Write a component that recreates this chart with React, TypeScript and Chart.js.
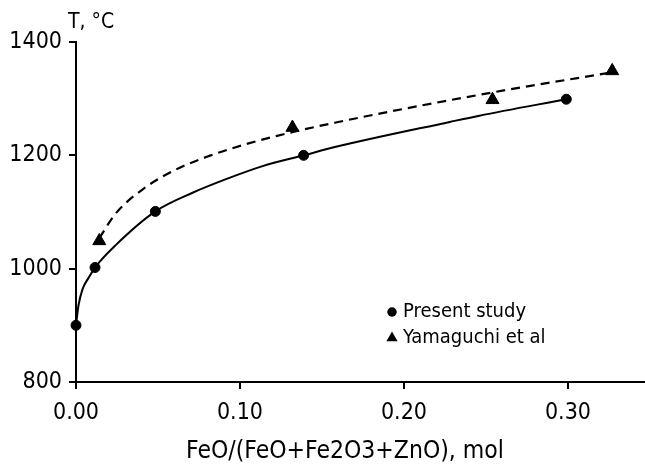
import React, { useEffect, useRef } from 'react';
import { Chart, registerables } from 'chart.js';

Chart.register(...registerables);

const FONT = "'DejaVu Sans Condensed', 'DejaVu Sans', sans-serif";

// Present study (circles)
const presentX = [0, 0.0116, 0.0484, 0.1388, 0.299];
const presentY = [900, 1002, 1101, 1200, 1299];

// Present study trend curve (solid)
const presentFitX = [0, 0.0015, 0.004, 0.0075, 0.0116, 0.0244, 0.0484, 0.0711, 0.0915, 0.1138, 0.1388, 0.1585, 0.228, 0.246, 0.299];
const presentFitY = [900, 935, 964, 983, 1002, 1042, 1101, 1134, 1158, 1181, 1200, 1215, 1259, 1270, 1299];

// Yamaguchi et al (triangles)
const yamaX = [0.0142, 0.132, 0.254, 0.327];
const yamaY = [1049, 1249, 1298, 1349];

// Yamaguchi et al trend curve (dashed)
const yamaFitX = [0.0142, 0.0244, 0.0407, 0.061, 0.0813, 0.1016, 0.122, 0.1585, 0.254, 0.326];
const yamaFitY = [1054, 1098, 1140, 1175, 1199, 1218, 1234, 1258, 1311, 1346];

const xTicks = [0, 0.1, 0.2, 0.3];
const yTicks = [800, 1000, 1200, 1400];
const legendLabels = ['Present study', 'Yamaguchi et al'];
const yTitle = 'T, °C';
const xTitle = 'FeO/(FeO+Fe2O3+ZnO), mol';

const toPts = (xs: number[], ys: number[]) => xs.map((x, i) => ({ x, y: ys[i] }));

const overlay = {
  id: 'overlay',
  afterDatasetsDraw(chart: any) {
    const ctx = chart.ctx as CanvasRenderingContext2D;
    const { left, top, bottom } = chart.chartArea;
    ctx.save();
    ctx.fillStyle = '#000';
    ctx.font = `21px ${FONT}`;
    ctx.textAlign = 'left';
    ctx.textBaseline = 'alphabetic';
    ctx.fillText(yTitle, left - 8, top - 14);

    // x axis title
    ctx.font = `24.5px ${FONT}`;
    ctx.textAlign = 'center';
    ctx.textBaseline = 'middle';
    ctx.fillText(xTitle, left + 269, bottom + 70);

    // legend
    const mx = left + 316;
    const y1 = top + 270;
    const y2 = top + 296;
    ctx.font = `20px ${FONT}`;
    ctx.textAlign = 'left';
    ctx.textBaseline = 'middle';
    ctx.beginPath();
    ctx.arc(mx, y1, 4.7, 0, Math.PI * 2);
    ctx.fill();
    ctx.fillText(legendLabels[0], mx + 11, y1);
    const r = 6.5;
    ctx.beginPath();
    ctx.moveTo(mx, y2 - r);
    ctx.lineTo(mx + r * 0.866, y2 + r * 0.5);
    ctx.lineTo(mx - r * 0.866, y2 + r * 0.5);
    ctx.closePath();
    ctx.fill();
    ctx.fillText(legendLabels[1], mx + 11, y2);
    ctx.restore();
  },
};

export default function App() {
  const ref = useRef<HTMLCanvasElement>(null);
  useEffect(() => {
    document.body.style.margin = '0';
    const canvas = ref.current;
    if (!canvas) return;
    const chart = new Chart(canvas, {
      type: 'scatter',
      data: {
        datasets: [
          {
            label: 'present fit',
            data: toPts(presentFitX, presentFitY),
            showLine: true,
            borderColor: '#000',
            borderWidth: 2,
            pointRadius: 0,
            cubicInterpolationMode: 'monotone',
          },
          {
            label: 'yamaguchi fit',
            data: toPts(yamaFitX, yamaFitY),
            showLine: true,
            borderColor: '#000',
            borderWidth: 2.2,
            borderDash: [9, 6],
            pointRadius: 0,
            cubicInterpolationMode: 'monotone',
          },
          {
            label: legendLabels[0],
            data: toPts(presentX, presentY),
            showLine: false,
            pointStyle: 'circle',
            pointRadius: 5,
            pointBackgroundColor: '#000',
            pointBorderColor: '#000',
            pointBorderWidth: 1,
            clip: false,
          },
          {
            label: legendLabels[1],
            data: toPts(yamaX, yamaY),
            showLine: false,
            pointStyle: 'triangle',
            pointRadius: 7.5,
            pointBackgroundColor: '#000',
            pointBorderColor: '#000',
            pointBorderWidth: 1,
            clip: false,
          },
        ] as any,
      },
      options: {
        animation: false,
        responsive: false,
        layout: { autoPadding: false, padding: { top: 42, left: 0, right: 0, bottom: 0 } },
        plugins: {
          legend: { display: false },
          tooltip: { enabled: false },
        },
        scales: {
          x: {
            type: 'linear',
            min: 0,
            max: 0.347,
            afterFit: (s: any) => { s.height = 90; s.paddingRight = 0; s.paddingLeft = 0; },
            afterBuildTicks: (s: any) => { s.ticks = xTicks.map((v) => ({ value: v })); },
            grid: { display: true, drawOnChartArea: false, drawTicks: true, tickLength: 7, color: '#000', lineWidth: 2 },
            border: { display: true, color: '#000', width: 2 },
            ticks: {
              color: '#000',
              padding: 10,
              maxRotation: 0,
              autoSkip: false,
              font: { family: FONT, size: 23 },
              callback: (v: any) => Number(v).toFixed(2),
            },
            title: { display: false },
          },
          y: {
            type: 'linear',
            min: 800,
            max: 1400,
            afterFit: (s: any) => { s.width = 76; s.paddingTop = 0; s.paddingBottom = 0; },
            afterBuildTicks: (s: any) => { s.ticks = yTicks.map((v) => ({ value: v })); },
            grid: { display: true, drawOnChartArea: false, drawTicks: true, tickLength: 7, color: '#000', lineWidth: 2 },
            border: { display: true, color: '#000', width: 2 },
            ticks: {
              color: '#000',
              padding: 7,
              font: { family: FONT, size: 23 },
              callback: (v: any) => String(v),
            },
          },
        },
      } as any,
      plugins: [overlay],
    });
    return () => chart.destroy();
  }, []);
  return (
    <div style={{ width: 645, height: 472, background: '#fff' }}>
      <canvas ref={ref} width={645} height={472} style={{ display: 'block' }} />
    </div>
  );
}
